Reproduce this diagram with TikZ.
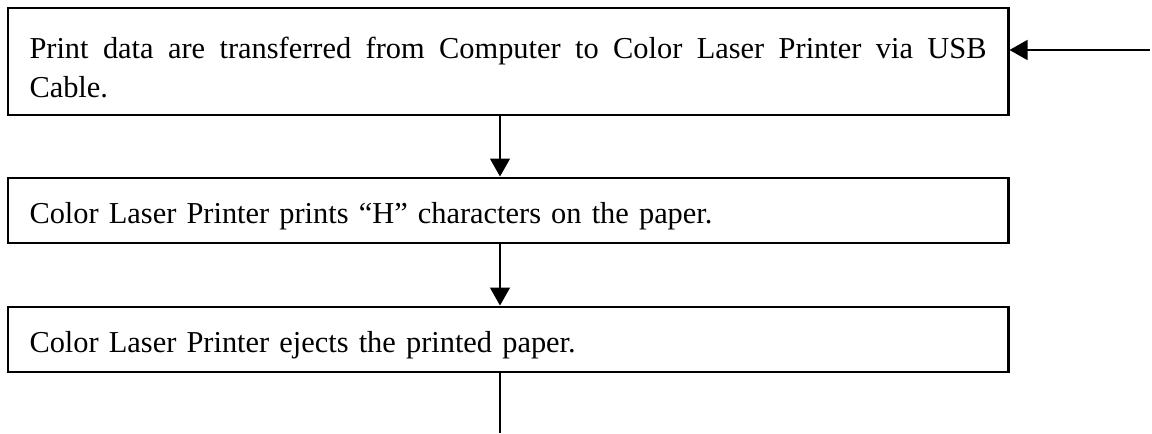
\documentclass[tikz,border=0pt]{standalone}
\usepackage{fontspec}
\setmainfont{Liberation Serif}
\usepackage{tikz}
\usetikzlibrary{arrows.meta}

\begin{document}
\begin{tikzpicture}
    \tikzset{nd/.style={
      rectangle,
      draw,
      line width=1.7pt,
      minimum width=20cm,
      text width=19.14cm,
      inner xsep=0.43cm,
      text height=19pt,
      font=\fontsize{17.3}{21.8}\selectfont},
      ar/.style={-{Triangle[length=0.36cm,width=0.4cm]}, line width=0.8pt}}
    \useasboundingbox (0, 0) rectangle (23.04, -8.66);
    \node[nd, minimum height=2.14cm, align=justify] at (10.16, -1.23) (0) {Print data are transferred from Computer to Color Laser Printer via USB\linebreak Cable.};
    \node[nd, minimum height=1.3cm, align=left] at (10.16, -4.21) (1) {Color Laser Printer prints “H” characters on the paper.};
    \node[nd, minimum height=1.3cm, align=left] at (10.16, -6.79) (2) {Color Laser Printer ejects the printed paper.};
    \coordinate (3) at (23.0, -1.0);
    \coordinate (4) at (10.0, -8.66);

    \draw[ar] (3) -- (3 -| 0.east);
    \draw[ar] (4 |- 0.south) -- (4 |- 1.north);
    \draw[ar] (4 |- 1.south) -- (4 |- 2.north);
    \draw[line width=0.8pt] (4 |- 2.south) -- (4);
  \end{tikzpicture}
\end{document}
